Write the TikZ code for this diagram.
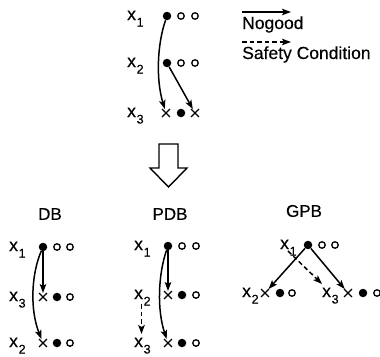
\documentclass[tikz,border=0pt]{standalone}
\usepackage{fontspec}
\setmainfont{Liberation Sans}
\newfontfamily\labfont{Liberation Sans}[FakeBold=0.35]
\usetikzlibrary{arrows.meta,shapes.misc}
\newcommand{\xv}[1]{x\kern0.04em\raisebox{-6.5pt}{\fontsize{12.5}{12.5}\selectfont #1}}
\tikzset{
  fdot/.style={circle,fill=black,inner sep=0pt,minimum size=8.5pt},
  odot/.style={circle,draw=black,line width=1.3pt,inner sep=0pt,minimum size=6.5pt},
  xmark/.style={cross out,draw=black,line width=1.4pt,inner sep=0pt,minimum size=6.5pt},
  vlab/.style={anchor=base west,inner sep=0pt,font=\labfont\fontsize{17.5}{20}\selectfont},
  ttl/.style={inner sep=0pt,font=\labfont\fontsize{17}{20}\selectfont},
  arr/.style={line width=1.5pt,-{Stealth[length=9pt,width=6.5pt,inset=2pt]}},
  darr/.style={arr,dash pattern=on 4.5pt off 3pt},
}
\begin{document}
\begin{tikzpicture}[x=1pt,y=-1pt]
\useasboundingbox (0,0) rectangle (380,356);
% ---------- top
\node[vlab] (tl1) at (127,20) {\xv{1}};
\node[vlab] (tl2) at (127,67) {\xv{2}};
\node[vlab] (tl3) at (127,117) {\xv{3}};
\node[fdot] (t1a) at (167,16) {};
\node[odot] (t1b) at (181,16) {};
\node[odot] (t1c) at (195,16) {};
\node[fdot] (t2a) at (167,63) {};
\node[odot] (t2b) at (181,63) {};
\node[odot] (t2c) at (195,63) {};
\node[xmark] (t3a) at (166,113) {};
\node[fdot] (t3b) at (181,113) {};
\node[xmark] (t3c) at (195,113) {};
\draw[arr] (t1a) .. controls (157,45) and (156,80) .. (t3a);
\draw[arr] (t2a) -- (t3c);
% ---------- legend
\coordinate (la) at (242,12);
\coordinate (lb) at (291,12);
\coordinate (lc) at (242,42);
\coordinate (ld) at (291,42);
\draw[arr] (la) -- (lb);
\draw[darr] (lc) -- (ld);
\node[vlab] (ng) at (242,29) {Nogood};
\node[vlab] (sc) at (242,59) {Safety Condition};
% ---------- hollow arrow
\draw[line width=1.4pt,line join=miter] (159,144) -- (178,144) -- (178,168) -- (187,168) -- (168.5,187) -- (150,168) -- (159,168) -- cycle;
% ---------- DB
\node[ttl] (db) at (50,214) {DB};
\node[vlab] (dl1) at (9,251) {\xv{1}};
\node[vlab] (dl3) at (9,301) {\xv{3}};
\node[vlab] (dl2) at (9,347) {\xv{2}};
\node[fdot] (d1a) at (43,247) {};
\node[odot] (d1b) at (57,247) {};
\node[odot] (d1c) at (70,247) {};
\node[xmark] (d3a) at (43,297) {};
\node[fdot] (d3b) at (57,297) {};
\node[odot] (d3c) at (70,297) {};
\node[xmark] (d2a) at (43,343) {};
\node[fdot] (d2b) at (57,343) {};
\node[odot] (d2c) at (70,343) {};
\draw[arr] (d1a) -- (d3a);
\draw[arr] (d1a) .. controls (31,275) and (30,310) .. (d2a);
% ---------- PDB
\node[ttl] (pdb) at (170,214) {PDB};
\node[vlab] (pl1) at (134,250) {\xv{1}};
\node[vlab] (pl2) at (134,299) {\xv{2}};
\node[vlab] (pl3) at (134,347) {\xv{3}};
\node[fdot] (p1a) at (168,246) {};
\node[odot] (p1b) at (182,246) {};
\node[odot] (p1c) at (196,246) {};
\node[xmark] (p2a) at (168,295) {};
\node[fdot] (p2b) at (182,295) {};
\node[odot] (p2c) at (196,295) {};
\node[xmark] (p3a) at (168,343) {};
\node[fdot] (p3b) at (182,343) {};
\node[odot] (p3c) at (196,343) {};
\draw[arr] (p1a) -- (p2a);
\draw[arr] (p1a) .. controls (158,275) and (157,310) .. (p3a);
\coordinate (pda) at (141.5,304);
\coordinate (pdb) at (141.5,334);
\draw[darr] (pda) -- (pdb);
% ---------- GPB
\node[ttl] (gpb) at (304,211) {GPB};
\node[vlab] (gl1) at (280,249) {\xv{1}};
\node[vlab] (gl2) at (242,297) {\xv{2}};
\node[vlab] (gl3) at (322,297) {\xv{3}};
\node[fdot] (g1a) at (308,245) {};
\node[odot] (g1b) at (322,245) {};
\node[odot] (g1c) at (335,245) {};
\node[xmark] (g2a) at (265,293) {};
\node[fdot] (g2b) at (280,293) {};
\node[odot] (g2c) at (292,293) {};
\node[xmark] (g3a) at (348,293) {};
\node[fdot] (g3b) at (363,293) {};
\node[odot] (g3c) at (377,293) {};
\draw[arr] (g1a) -- (g2a);
\draw[arr] (g1a) -- (g3a);
\coordinate (gda) at (288,251);
\coordinate (gdb) at (322,284);
\draw[darr] (gda) -- (gdb);
\end{tikzpicture}
\end{document}
